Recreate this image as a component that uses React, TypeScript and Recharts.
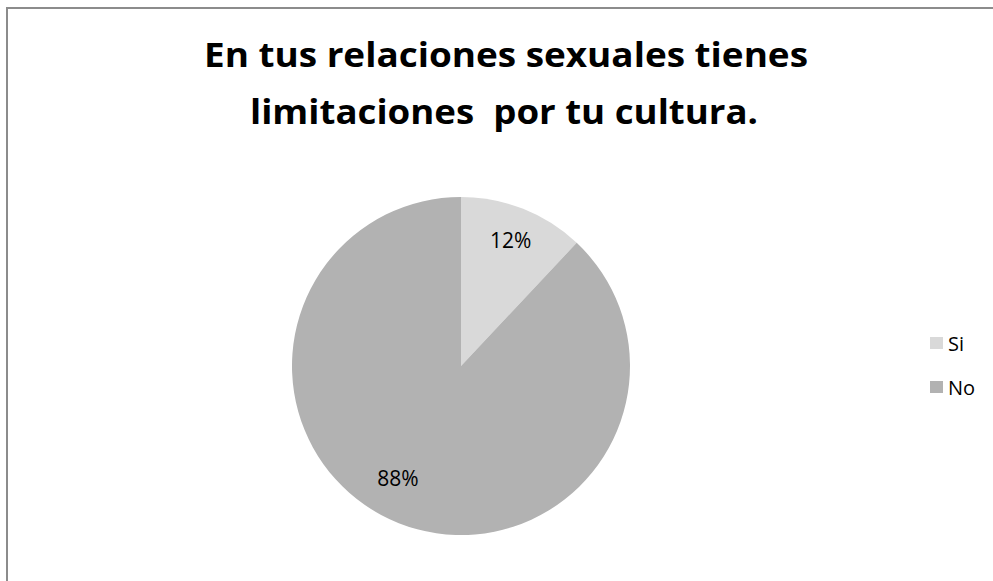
import { PieChart, Pie, Cell, Legend } from "recharts";

const categories = ["Si", "No"];
const shares = [12, 88];
const sliceColors = ["#d9d9d9", "#b2b2b2"];
const titleLines = ["En tus relaciones sexuales tienes", "limitaciones  por tu cultura."];

const data = categories.map((name, i) => ({ name, value: shares[i] }));

const FONT = "'Open Sans', 'Noto Sans', sans-serif";
const RAD = Math.PI / 180;
// Excel's best-fit puts the big slice label a bit off its mid angle
const labelFit = [
  { r: 0.8, shift: 0 },
  { r: 0.76, shift: -7.8 },
];

function renderLabel(props: any) {
  const { cx, cy, midAngle, outerRadius, index, value } = props;
  const fit = labelFit[index] || { r: 0.8, shift: 0 };
  const a = (midAngle + fit.shift) * RAD;
  const x = cx + outerRadius * fit.r * Math.cos(-a);
  const y = cy + outerRadius * fit.r * Math.sin(-a);
  return (
    <text
      x={x}
      y={y}
      fill="#000"
      fontSize={21}
      fontFamily={FONT}
      textAnchor="middle"
      dominantBaseline="central"
    >
      {value}%
    </text>
  );
}

function LegendBox({ payload }: any) {
  const items = [...(payload || [])].sort(
    (a: any, b: any) => categories.indexOf(a.value) - categories.indexOf(b.value)
  );
  return (
    <div style={{ fontFamily: FONT, fontSize: 20, color: "#000" }}>
      {items.map((p: any) => (
        <div key={p.value} style={{ display: "flex", alignItems: "center", height: 44 }}>
          <span style={{ width: 13, height: 12, background: p.color, marginRight: 5, display: "inline-block" }} />
          <span>{p.value}</span>
        </div>
      ))}
    </div>
  );
}

export default function App() {
  return (
    <div style={{ position: "absolute", left: 0, top: 0, width: 993, height: 581, overflow: "hidden", background: "#fff" }}>
      <div
        style={{
          position: "absolute",
          left: 6,
          top: 7,
          width: 1000,
          height: 600,
          borderLeft: "2px solid #8c8c8c",
          borderTop: "2px solid #8c8c8c",
        }}
      />
      <svg width={993} height={140} style={{ position: "absolute", left: 0, top: 0 }}>
        <text x={204} y={67} fontFamily={FONT} fontWeight="bold" fontSize={34} textLength={604} lengthAdjust="spacingAndGlyphs" fill="#000">
          {titleLines[0]}
        </text>
        <text x={250} y={124} fontFamily={FONT} fontWeight="bold" fontSize={34} textLength={508} lengthAdjust="spacingAndGlyphs" fill="#000" style={{ whiteSpace: "pre" }}>
          {titleLines[1]}
        </text>
      </svg>
      <div style={{ position: "absolute", left: 0, top: 0 }}>
        <PieChart width={993} height={581} margin={{ top: 0, right: 0, bottom: 0, left: 0 }}>
          <Pie
            data={data}
            dataKey="value"
            nameKey="name"
            cx={461}
            cy={366}
            outerRadius={169}
            startAngle={90}
            endAngle={-270}
            stroke="none"
            label={renderLabel}
            labelLine={false}
            isAnimationActive={false}
          >
            {data.map((d, i) => (
              <Cell key={d.name} fill={sliceColors[i]} />
            ))}
          </Pie>
          <Legend
            layout="vertical"
            content={<LegendBox />}
            wrapperStyle={{ position: "absolute", left: 930, top: 321, width: 60 }}
          />
        </PieChart>
      </div>
    </div>
  );
}
